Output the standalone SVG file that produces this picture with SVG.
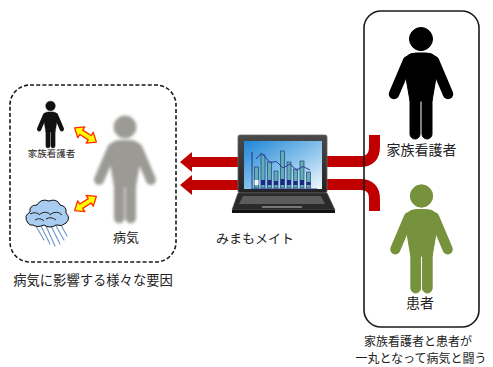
<svg xmlns="http://www.w3.org/2000/svg" width="493" height="367" viewBox="0 0 493 367">
  <style>
    .lbl { font-family: "Noto Sans CJK JP", "Noto Sans", sans-serif; fill: #222; text-anchor: middle; }
    .frame-solid { fill: none; stroke: #1a1a1a; stroke-width: 1.6; }
    .frame-dash { fill: none; stroke: #1a1a1a; stroke-width: 1.6; stroke-dasharray: 4 2.2; }
    .red-arrow { fill: #c00000; }
    .red-bend { fill: none; stroke: #c00000; stroke-width: 11; }
    .dbl { fill: #ffff00; stroke: #ff2a00; stroke-width: 1.3; stroke-linejoin: round; }
  </style>
  <defs>
    <!-- person pictogram, head centred on the origin -->
    <g id="person">
      <circle cx="0" cy="0" r="11.5"/>
      <path d="M -17,27 Q -17,14 -5,14 L 5,14 Q 17,14 17,27 L 11,62 L -11,62 Z"/>
      <line x1="-13" y1="22" x2="-27" y2="55" stroke-width="10.5" stroke-linecap="round"/>
      <line x1="13" y1="22" x2="27" y2="55" stroke-width="10.5" stroke-linecap="round"/>
      <rect x="-11" y="56" width="10" height="44" rx="5"/>
      <rect x="1" y="56" width="10" height="44" rx="5"/>
    </g>
    <filter id="soft" x="-20%" y="-20%" width="140%" height="140%">
      <feGaussianBlur stdDeviation="1.6"/>
    </filter>
    <linearGradient id="screen" x1="0" y1="0" x2="1" y2="1">
      <stop offset="0" stop-color="#1f86d6"/>
      <stop offset="0.55" stop-color="#8cc4ec"/>
      <stop offset="1" stop-color="#f2f8fd"/>
    </linearGradient>
    <linearGradient id="bezel" x1="0" y1="0" x2="0" y2="1">
      <stop offset="0" stop-color="#4a4a4a"/>
      <stop offset="1" stop-color="#222"/>
    </linearGradient>
    <polygon id="dblArrow" points="-13,0 -5,-6.5 -5,-2.6 5,-2.6 5,-6.5 13,0 5,6.5 5,2.6 -5,2.6 -5,6.5"/>
  </defs>

  <!-- connectors -->
  <g id="connectors">
    <path class="red-arrow" d="M 242,157 L 192,157 L 192,152 L 180,162 L 192,172 L 192,167 L 242,167 Z"/>
    <path class="red-arrow" d="M 242,180 L 192,180 L 192,175 L 180,185 L 192,195 L 192,190 L 242,190 Z"/>
    <path class="red-bend" d="M 320,161.5 L 360,161.5 Q 374.5,161.5 374.5,147 L 374.5,135"/>
    <path class="red-bend" d="M 320,184.5 L 360,184.5 Q 374.5,184.5 374.5,199 L 374.5,211"/>
    <use href="#dblArrow" class="dbl" transform="translate(85.5,135) rotate(33)"/>
    <use href="#dblArrow" class="dbl" transform="translate(85.5,203.5) rotate(-33)"/>
  </g>

  <!-- left group: factors around the illness -->
  <g id="factors">
    <rect class="frame-dash" x="10" y="85" width="166" height="177" rx="20"/>
    <text class="lbl" x="93" y="285" font-size="13.3">病気に影響する様々な要因</text>
  </g>

  <g id="illness">
    <use href="#person" fill="#9b9a95" stroke="#9b9a95" filter="url(#soft)" transform="translate(125,127) scale(0.96)"/>
    <text class="lbl" x="126" y="242" font-size="13">病気</text>
  </g>

  <g id="caregiver-small">
    <use href="#person" fill="#111" stroke="#111" transform="translate(50.5,106) scale(0.42)"/>
    <text class="lbl" x="51.5" y="157" font-size="9.5">家族看護者</text>
  </g>

  <g id="weather">
    <g stroke="#6d98c8" stroke-width="1.1" stroke-linecap="round">
      <line x1="36" y1="226" x2="44" y2="240"/>
      <line x1="41" y1="226" x2="50" y2="244"/>
      <line x1="46" y1="226" x2="55" y2="246"/>
      <line x1="51" y1="226" x2="60" y2="244"/>
      <line x1="56" y1="226" x2="64" y2="240"/>
      <line x1="61" y1="225" x2="67" y2="236"/>
    </g>
    <path d="M 28,223 Q 23,216 30,212 Q 29,205 37,205 Q 41,198 49,201 Q 57,198 60,205 Q 67,206 66,213 Q 71,218 66,223 Q 62,227 56,225 Q 50,229 44,225 Q 37,228 33,225 Q 30,226 28,223 Z" fill="#a9cdf0" stroke="#111" stroke-width="1"/>
    <path d="M 30,214 Q 36,211 40,215 M 40,214 Q 46,210 51,215 M 51,214 Q 57,210 62,215 M 35,220 Q 40,217 44,221 M 46,219 Q 51,216 56,220" fill="none" stroke="#111" stroke-width="0.9"/>
  </g>

  <!-- monitoring laptop -->
  <g id="laptop">
    <rect x="238" y="135" width="89" height="58" rx="2" fill="url(#bezel)" stroke="#666" stroke-width="0.8"/>
    <rect x="244" y="141" width="78" height="48" fill="url(#screen)"/>
    <g stroke="#1b2a6e" stroke-width="0.6">
      <rect x="254.5" y="167" width="4" height="21" fill="#5fb0b4"/>
      <rect x="261" y="155" width="4" height="33" fill="#5fb0b4"/>
      <rect x="267.5" y="162" width="4" height="26" fill="#5fb0b4"/>
      <rect x="274" y="171" width="4" height="17" fill="#5fb0b4"/>
      <rect x="280.5" y="151" width="4" height="37" fill="#5fb0b4"/>
      <rect x="287" y="162" width="4" height="26" fill="#5fb0b4"/>
      <rect x="293.5" y="169" width="4" height="19" fill="#5fb0b4"/>
      <rect x="300" y="161" width="4" height="27" fill="#5fb0b4"/>
      <rect x="306.5" y="172" width="4" height="16" fill="#5fb0b4"/>
    </g>
    <g fill="#1b2a80">
      <rect x="261" y="180" width="4" height="5"/>
      <rect x="267.5" y="180" width="4" height="5"/>
      <rect x="274" y="181" width="4" height="4"/>
      <rect x="280.5" y="179" width="4" height="6"/>
      <rect x="287" y="180" width="4" height="5"/>
      <rect x="293.5" y="181" width="4" height="4"/>
      <rect x="300" y="180" width="4" height="5"/>
      <rect x="306.5" y="182" width="4" height="3"/>
    </g>
    <rect x="254.5" y="180" width="4" height="5" fill="#f4f4f4"/>
    <polyline points="256,159 261.5,153 270,162.5 276.5,161.5 283,168 290,164 296.5,170 303,166.5 310,170" fill="none" stroke="#2e3a9a" stroke-width="1"/>
    <polyline points="252,152 252,189 317,189" fill="none" stroke="#1b2a6e" stroke-width="0.9"/>
    <polygon points="238,193 327,193 335,210 232,210" fill="#2a2a2a" stroke="#555" stroke-width="0.7"/>
    <polygon points="243,196 321,196 325,204 239,204" fill="#5c5c5c"/>
    <rect x="262" y="206" width="40" height="2" fill="#777"/>
    <rect x="232" y="210" width="103" height="3" fill="#111"/>
    <text class="lbl" x="255" y="243" font-size="13">みまもメイト</text>
  </g>

  <!-- right group: caregiver and patient together -->
  <g id="team">
    <rect class="frame-solid" x="364" y="11" width="115" height="316" rx="17"/>
    <text class="lbl" x="418" y="345.5" font-size="12">家族看護者と患者が</text>
    <text class="lbl" x="421" y="362.5" font-size="12">一丸となって病気と闘う</text>
  </g>

  <g id="caregiver">
    <use href="#person" fill="#000" stroke="#000" transform="translate(421,39)"/>
    <text class="lbl" x="421.5" y="155" font-size="14">家族看護者</text>
  </g>

  <g id="patient">
    <use href="#person" fill="#76923c" stroke="#76923c" transform="translate(421.5,196) scale(0.97)"/>
    <text class="lbl" x="420" y="308" font-size="14">患者</text>
  </g>
</svg>
